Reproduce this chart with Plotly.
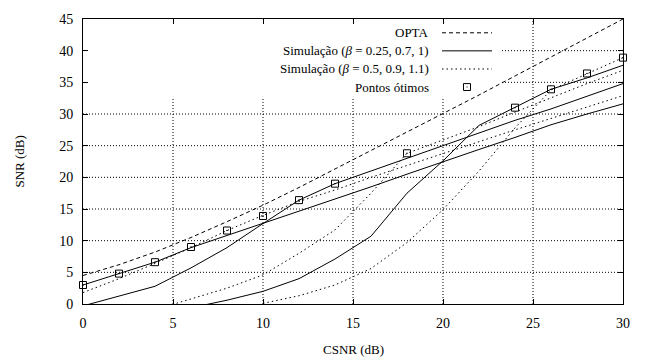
import plotly.graph_objects as go

# ---------------- data ----------------
csnr = [0, 2, 4, 6, 8, 10, 12, 14, 16, 18, 20, 22, 24, 26, 28, 30]
opta = [4.5, 6.2, 8.2, 10.5, 13.0, 15.6, 18.4, 21.3, 24.2, 27.1, 30.1, 33.0, 36.0, 39.0, 42.0, 45.0]

sim_b025 = [3.0, 4.8, 6.6, 8.9, 10.8, 12.7, 14.6, 16.5, 18.5, 20.5, 22.5, 24.4, 26.3, 28.3, 30.0, 31.6]
sim_b07 = [-0.3, 1.3, 2.8, 5.7, 8.9, 12.7, 16.4, 19.0, 21.0, 23.0, 25.0, 27.1, 29.0, 30.8, 32.8, 34.8]
csnr_b1 = [6, 8, 10, 12, 14, 16, 18, 20, 22, 24, 26, 28, 30]
sim_b1 = [-0.6, 0.6, 2.0, 4.0, 7.1, 10.7, 17.5, 22.6, 28.2, 31.0, 33.9, 35.7, 37.7]

sim_b05 = [1.8, 4.0, 6.4, 8.9, 11.6, 14.0, 16.2, 18.0, 20.0, 21.9, 23.8, 25.7, 27.5, 29.3, 31.1, 32.9]
csnr_b09 = [4, 6, 8, 10, 12, 14, 16, 18, 20, 22, 24, 26, 28, 30]
sim_b09 = [-0.9, 0.8, 2.5, 4.6, 8.0, 11.7, 17.5, 23.8, 25.9, 28.0, 30.3, 32.6, 34.8, 36.9]
csnr_b11 = [10, 12, 14, 16, 18, 20, 22, 24, 26, 28, 30]
sim_b11 = [0.1, 1.3, 3.0, 5.6, 9.7, 14.9, 21.0, 27.8, 33.8, 36.4, 38.9]

opt_x = [0, 2, 4, 6, 8, 10, 12, 14, 18, 24, 26, 28, 30]
opt_y = [3.0, 4.8, 6.6, 9.0, 11.6, 13.9, 16.4, 19.0, 23.8, 31.0, 33.9, 36.4, 38.9]

legend_labels = ["OPTA",
                 "Simulação (<i>β</i> = 0.25, 0.7, 1)",
                 "Simulação (<i>β</i> = 0.5, 0.9, 1.1)",
                 "Pontos ótimos"]
x_ticks = [0, 5, 10, 15, 20, 25, 30]
y_ticks = [0, 5, 10, 15, 20, 25, 30, 35, 40, 45]
x_range = [0, 30]
y_range = [0, 45]
x_title = "CSNR (dB)"
y_title = "SNR (dB)"

# ---------------- styles ----------------
FONT = "Times New Roman, Liberation Serif, DejaVu Serif"
DASH = "4px,3px"
DOT = "1.5px,3px"
GRID_DASH = "1px,2px"

W, H = 648, 358
ML, MR, MT, MB = 83, 25, 15, 54
PW, PH = W - ML - MR, H - MT - MB


def px2paper_x(px):
    return (px - ML) / PW


def py2paper_y(py):
    return (H - MB - py) / PH


# key box extent (the key hides the grid behind it)
key_x1 = x_range[0] + px2paper_x(502) * (x_range[1] - x_range[0])
key_y0 = y_range[0] + py2paper_y(94) * (y_range[1] - y_range[0])

fig = go.Figure()

line_k = dict(color="black", width=1)
fig.add_trace(go.Scatter(x=csnr, y=opta, mode="lines",
                         line=dict(color="black", width=1, dash=DASH)))
for xs, ys in [(csnr, sim_b025), (csnr, sim_b07), (csnr_b1, sim_b1)]:
    fig.add_trace(go.Scatter(x=xs, y=ys, mode="lines", line=line_k))
for xs, ys in [(csnr, sim_b05), (csnr_b09, sim_b09), (csnr_b11, sim_b11)]:
    fig.add_trace(go.Scatter(x=xs, y=ys, mode="lines",
                             line=dict(color="black", width=1, dash=DOT)))
fig.add_trace(go.Scatter(x=opt_x, y=opt_y, mode="markers", cliponaxis=False,
                         marker=dict(symbol="square-open-dot", size=7,
                                     color="black", line=dict(color="black", width=1))))

shapes = []
grid_line = dict(color="black", width=1, dash=GRID_DASH)
for xv in x_ticks[1:-1]:
    top = y_range[1] if xv > key_x1 else key_y0
    shapes.append(dict(type="line", xref="x", yref="y", x0=xv, x1=xv,
                       y0=y_range[0], y1=top, line=grid_line, layer="below"))
for yv in y_ticks[1:-1]:
    left = key_x1 if yv > key_y0 else x_range[0]
    shapes.append(dict(type="line", xref="x", yref="y", x0=left, x1=x_range[1],
                       y0=yv, y1=yv, line=grid_line, layer="below"))

rows_py = [29, 47.3, 65.7, 84]
text_right = px2paper_x(431)
s0, s1 = px2paper_x(442), px2paper_x(492)
styles = [DASH, "solid", DOT]
annotations = []
for i, lab in enumerate(legend_labels):
    yp = py2paper_y(rows_py[i])
    annotations.append(dict(text=lab, xref="paper", yref="paper", x=text_right, y=yp,
                            xanchor="right", yanchor="middle", showarrow=False,
                            font=dict(family=FONT, size=13, color="black")))
    if i < 3:
        shapes.append(dict(type="line", xref="paper", yref="paper", x0=s0, x1=s1,
                           y0=yp, y1=yp, line=dict(color="black", width=1, dash=styles[i]),
                           layer="above"))
    else:
        cx = px2paper_x(467)
        hw = 3.5 / PW
        hh = 3.5 / PH
        shapes.append(dict(type="rect", xref="paper", yref="paper",
                           x0=cx - hw, x1=cx + hw, y0=yp - hh, y1=yp + hh,
                           line=dict(color="black", width=1), layer="above"))
        shapes.append(dict(type="rect", xref="paper", yref="paper",
                           x0=cx - 0.5 / PW, x1=cx + 0.5 / PW,
                           y0=yp - 0.5 / PH, y1=yp + 0.5 / PH,
                           fillcolor="black", line=dict(width=0), layer="above"))

annotations.append(dict(text=x_title, xref="paper", yref="paper", x=0.5, y=0,
                        yshift=-45, xanchor="center", yanchor="middle", showarrow=False,
                        font=dict(family=FONT, size=13, color="black")))
annotations.append(dict(text=y_title, xref="paper", yref="paper", x=0, y=0.5,
                        xshift=-64, xanchor="center", yanchor="middle", textangle=-90,
                        showarrow=False, font=dict(family=FONT, size=13, color="black")))

axis_common = dict(showline=True, linecolor="black", linewidth=1, mirror="allticks",
                   ticks="inside", ticklen=5, tickcolor="black", tickwidth=1,
                   showgrid=False, zeroline=False,
                   tickfont=dict(family=FONT, size=14, color="black"))

fig.update_layout(
    width=W, height=H, margin=dict(l=ML, r=MR, t=MT, b=MB),
    paper_bgcolor="white", plot_bgcolor="white", showlegend=False,
    font=dict(family=FONT, color="black"),
    xaxis=dict(range=x_range, tickvals=x_ticks, ticklabelstandoff=6, **axis_common),
    yaxis=dict(range=y_range, tickvals=y_ticks, ticklabelstandoff=6, **axis_common),
    shapes=shapes, annotations=annotations,
)

fig.write_html("out.html")
